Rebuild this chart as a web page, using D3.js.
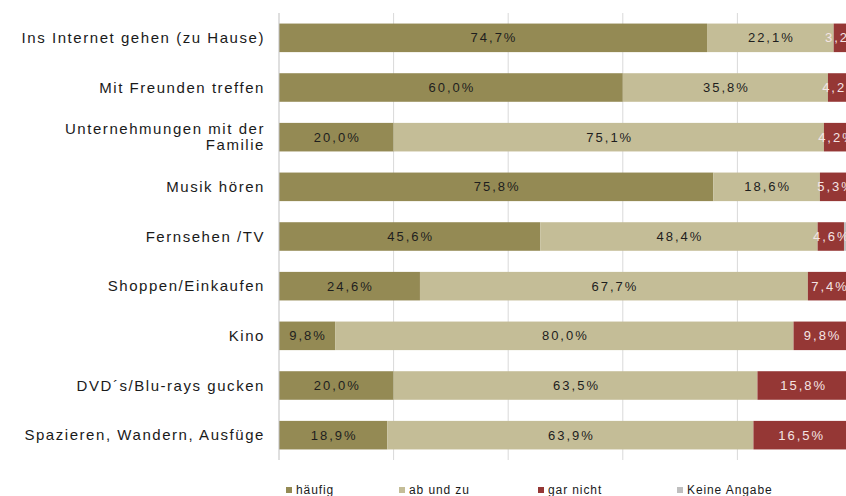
<!DOCTYPE html>
<html><head><meta charset="utf-8">
<script src="https://cdn.jsdelivr.net/npm/d3@7"></script>
<style>html,body{margin:0;padding:0;background:#fff;overflow:hidden}</style>
</head><body>
<svg id="c" width="846" height="496"></svg>
<script>
const categories = ["Ins Internet gehen (zu Hause)","Mit Freunden treffen","Unternehmungen mit der Familie","Musik hören","Fernsehen /TV","Shoppen/Einkaufen","Kino","DVD´s/Blu-rays gucken","Spazieren, Wandern, Ausfüge"];
const categoryLines = [["Ins Internet gehen (zu Hause)"],["Mit Freunden treffen"],["Unternehmungen mit der","Familie"],["Musik hören"],["Fernsehen /TV"],["Shoppen/Einkaufen"],["Kino"],["DVD´s/Blu-rays gucken"],["Spazieren, Wandern, Ausfüge"]];
const seriesNames = ["häufig","ab und zu","gar nicht","Keine Angabe"];
const haeufig   = [74.7, 60.0, 20.0, 75.8, 45.6, 24.6, 9.8, 20.0, 18.9];
const abundzu   = [22.1, 35.8, 75.1, 18.6, 48.4, 67.7, 80.0, 63.5, 63.9];
const garnicht  = [3.2, 4.2, 4.2, 5.3, 4.6, 7.4, 9.8, 15.8, 16.5];
const keine     = [0.0, 0.0, 0.7, 0.3, 0.4, 0.3, 0.4, 0.7, 0.7];
const xTicks = [0, 20, 40, 60, 80, 100];
const colors = ["#948a54", "#c4bd97", "#953735", "#bfbfbf"];
const labelColors = ["#1e1e1e", "#1e1e1e", "#f4e4e4", "#1e1e1e"];

const svg = d3.select("#c");
const x = d3.scaleLinear().domain([0, 100]).range([279, 852]);
const y = d3.scaleBand().domain(categories).range([13, 460]).paddingInner(0.425).paddingOuter(0.2125);

// gridlines
svg.append("g").selectAll("line").data(xTicks.slice(1)).join("line")
  .attr("x1", d => x(d)).attr("x2", d => x(d)).attr("y1", 13).attr("y2", 460)
  .attr("stroke", "#d9d9d9").attr("stroke-width", 1);

const rows = categories.map((c, i) => ({c, vals: [haeufig[i], abundzu[i], garnicht[i], keine[i]]}));
const loc = d3.formatLocale({decimal: ",", thousands: ".", grouping: [3], currency: ["", "€"]});
const fmt = loc.format(".1f");

const segs = [];
rows.forEach(r => {
  let acc = 0;
  r.vals.forEach((v, k) => { segs.push({c: r.c, k, v, x0: acc, x1: acc + v}); acc += v; });
});

svg.append("g").selectAll("rect").data(segs.filter(s => s.v > 0)).join("rect")
  .attr("x", s => x(s.x0)).attr("width", s => x(s.x1) - x(s.x0))
  .attr("y", s => y(s.c)).attr("height", y.bandwidth())
  .attr("fill", s => colors[s.k]);

svg.append("g").selectAll("text").data(segs.filter(s => s.v > 0 && s.k < 3)).join("text")
  .attr("x", s => (x(s.x0) + x(s.x1)) / 2 + 1)
  .attr("y", s => y(s.c) + y.bandwidth() / 2 + 4.5)
  .attr("text-anchor", "middle")
  .attr("font-family", "Arial, 'Liberation Sans', sans-serif")
  .attr("font-size", 13).attr("letter-spacing", 2)
  .attr("fill", s => labelColors[s.k])
  .text(s => fmt(s.v) + "%");

// axis line
svg.append("line").attr("x1", 279).attr("x2", 279).attr("y1", 13).attr("y2", 460)
  .attr("stroke", "#bfbfbf").attr("stroke-width", 1);

// category labels
const cl = svg.append("g").selectAll("text").data(categories).join("text")
  .attr("text-anchor", "end")
  .attr("font-family", "Arial, 'Liberation Sans', sans-serif")
  .attr("font-size", 15).attr("letter-spacing", 1.55).attr("fill", "#1a1a1a");
cl.each(function(c, i) {
  const lines = categoryLines[i];
  const cy = y(c) + y.bandwidth() / 2;
  lines.forEach((ln, j) => {
    d3.select(this).append("tspan").attr("x", 265)
      .attr("y", cy + 5 + (j - (lines.length - 1) / 2) * 16).text(ln);
  });
});

// legend
const legX = [286, 399, 538, 677];
const lg = svg.append("g").selectAll("g").data(seriesNames).join("g");
lg.append("rect").attr("x", (d, i) => legX[i]).attr("y", 487).attr("width", 6).attr("height", 6)
  .attr("fill", (d, i) => colors[i]);
lg.append("text").attr("x", (d, i) => legX[i] + 10).attr("y", 494)
  .attr("font-family", "Arial, 'Liberation Sans', sans-serif")
  .attr("font-size", 12).attr("letter-spacing", 0.9).attr("fill", "#1a1a1a")
  .text(d => d);
</script>
</body></html>
